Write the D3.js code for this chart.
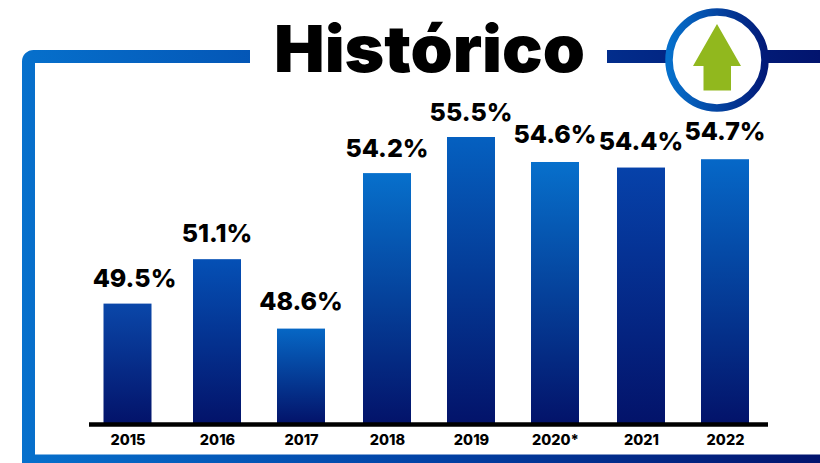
<!DOCTYPE html>
<html>
<head>
  <style>
    html, body { margin: 0; padding: 0; background: #fff; }
    svg { display: block; }
    text { font-family: "Inter", "Liberation Sans", sans-serif; fill: #000; }
  </style>
</head>
<body>
  <svg width="820" height="463"></svg>
  <script src="https://d3js.org/d3.v7.min.js"></script>
  <script>
    const years = ["2015", "2016", "2017", "2018", "2019", "2020*", "2021", "2022"];
    const values = [49.5, 51.1, 48.6, 54.2, 55.5, 54.6, 54.4, 54.7];
    const labels = ["49.5%", "51.1%", "48.6%", "54.2%", "55.5%", "54.6%", "54.4%", "54.7%"];

    // the bars are not evenly spaced in the picture
    const barCenters = [127.5, 217, 301, 387, 471, 555, 641, 725];
    const barTops = ["#0a47a9", "#0550b5", "#0667c5", "#0770cc", "#0560c0", "#0770cc", "#0642aa", "#0668c8"];
    const labelDx = [7, 0, 0, 0, 0, 0, 0, 0];
    const labelDy = [16.5, 17, 18.5, 16, 16, 19, 17.5, 19];

    const svg = d3.select("svg");
    const defs = svg.append("defs");

    function gradient(id, attrs, stops) {
      const g = defs.append("linearGradient").attr("id", id);
      Object.keys(attrs).forEach(function(k) { g.attr(k, attrs[k]); });
      stops.forEach(function(s) {
        g.append("stop").attr("offset", s[0]).attr("stop-color", s[1]);
      });
    }

    barTops.forEach(function(c, i) {
      gradient("bar" + i, {x1: 0, y1: 0, x2: 0, y2: 1}, [[0, c], [1, "#03136a"]]);
    });
    gradient("frameTop", {gradientUnits: "userSpaceOnUse", x1: 22, y1: 0, x2: 820, y2: 0},
      [[0, "#0670cc"], [0.5, "#0243a6"], [1, "#02146e"]]);
    gradient("ring", {x1: 0, y1: 0, x2: 1, y2: 0}, [[0, "#0670cc"], [1, "#021a78"]]);

    // frame
    svg.append("path")
      .attr("d", "M250,56.5H33.5a5,5 0 0 0 -5,5V461H820")
      .attr("fill", "none")
      .attr("stroke", "url(#frameTop)")
      .attr("stroke-width", 13);
    svg.append("rect").attr("x", 607).attr("y", 50).attr("width", 213).attr("height", 13)
      .attr("fill", "url(#frameTop)");

    // badge
    svg.append("circle").attr("cx", 717).attr("cy", 60).attr("r", 48)
      .attr("fill", "#fff").attr("stroke", "url(#ring)").attr("stroke-width", 7.5);
    svg.append("path")
      .attr("d", "M717,24L741,66H731V90.5H703.5V66H693Z")
      .attr("fill", "#91b81e");

    // title
    svg.append("text").attr("x", 274).attr("y", 72)
      .attr("font-size", 65).attr("font-weight", 900)
      .attr("textLength", 311).attr("lengthAdjust", "spacingAndGlyphs")
      .text("Histórico");

    // scales
    const x = d3.scaleOrdinal().domain(years).range(barCenters);
    const y = d3.scaleLinear().domain([45.2, 55.5]).range([423, 137]);
    const barWidth = 48;

    svg.selectAll(".bar")
      .data(years)
      .enter()
      .append("rect")
      .attr("class", "bar")
      .attr("x", function(d) { return x(d) - barWidth / 2; })
      .attr("y", function(d, i) { return y(values[i]); })
      .attr("width", barWidth)
      .attr("height", function(d, i) { return y.range()[0] - y(values[i]); })
      .attr("fill", function(d, i) { return "url(#bar" + i + ")"; });

    // value labels
    svg.selectAll(".value")
      .data(years)
      .enter()
      .append("text")
      .attr("class", "value")
      .attr("x", function(d, i) { return x(d) + labelDx[i]; })
      .attr("y", function(d, i) { return y(values[i]) - labelDy[i]; })
      .attr("text-anchor", "middle")
      .attr("font-size", 25).attr("font-weight", 800)
      .text(function(d, i) { return labels[i]; });

    // x axis, the line runs past the first and last bar
    const axis = svg.append("g")
      .attr("transform", "translate(0,424.5)")
      .call(d3.axisBottom(x).tickSize(0).tickPadding(10));
    axis.select(".domain").remove();
    axis.append("line").attr("x1", 89).attr("x2", 768)
      .attr("stroke", "#000").attr("stroke-width", 4.5);
    axis.selectAll("text")
      .attr("font-size", 14.5).attr("font-weight", 800)
      .style("font-family", "Inter, sans-serif");
  </script>
</body>
</html>
